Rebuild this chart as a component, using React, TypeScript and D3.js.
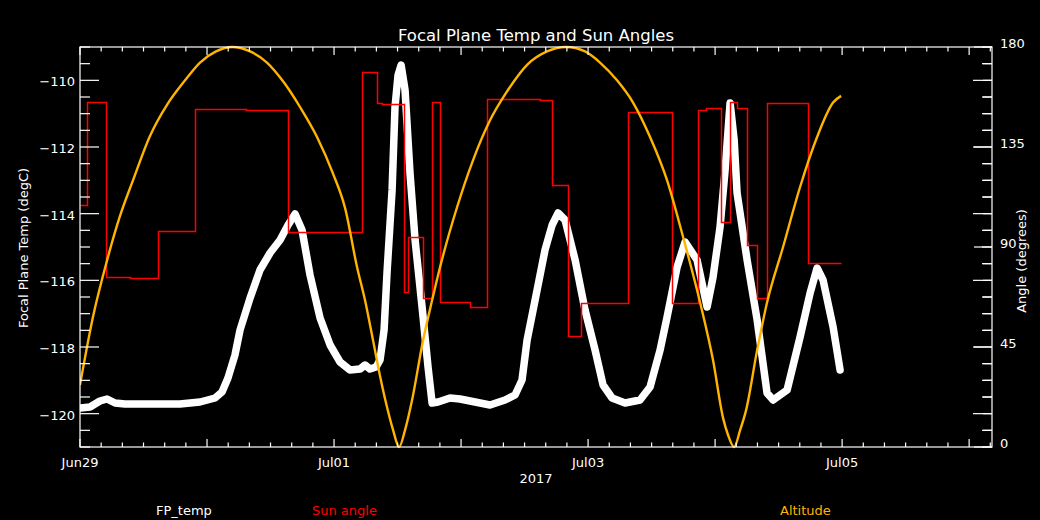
import { useEffect, useRef } from "react";
import * as d3 from "d3";

// time axis: days since 2017-06-29 00:00 UTC
const START = Date.UTC(2017, 5, 29);
const SPAN_DAYS = 7.18;

// FP_temp (degC)
const tempDays = [0, 0.079, 0.157, 0.213, 0.276, 0.354, 0.551, 0.787, 0.945, 1.063, 1.118, 1.165, 1.22, 1.26, 1.339, 1.417, 1.496, 1.575, 1.638, 1.693, 1.748, 1.811, 1.89, 1.969, 2.047, 2.126, 2.205, 2.244, 2.283, 2.331, 2.362, 2.394, 2.417, 2.457, 2.48, 2.504, 2.528, 2.559, 2.598, 2.638, 2.693, 2.74, 2.772, 2.819, 2.913, 2.992, 3.11, 3.228, 3.346, 3.425, 3.48, 3.52, 3.583, 3.661, 3.717, 3.764, 3.819, 3.898, 3.976, 4.055, 4.118, 4.189, 4.291, 4.409, 4.488, 4.567, 4.622, 4.701, 4.764, 4.858, 4.937, 4.984, 5.039, 5.079, 5.118, 5.15, 5.173, 5.252, 5.331, 5.409, 5.457, 5.567, 5.669, 5.748, 5.803, 5.85, 5.929, 5.984];
const tempValues = [-119.83, -119.8, -119.62, -119.56, -119.68, -119.71, -119.71, -119.71, -119.65, -119.53, -119.35, -118.93, -118.24, -117.49, -116.53, -115.69, -115.18, -114.79, -114.34, -114.01, -114.49, -115.84, -117.13, -117.94, -118.45, -118.69, -118.66, -118.54, -118.66, -118.6, -118.39, -117.49, -115.78, -113.29, -110.8, -109.84, -109.54, -110.29, -112.78, -114.79, -116.8, -118.6, -119.68, -119.65, -119.53, -119.56, -119.65, -119.74, -119.59, -119.44, -118.99, -117.79, -116.59, -115.09, -114.34, -113.98, -114.19, -115.39, -116.89, -118.09, -119.14, -119.53, -119.68, -119.59, -119.2, -118.09, -117.1, -115.6, -114.85, -115.39, -116.8, -115.9, -114.4, -112.69, -110.68, -111.79, -113.38, -115.39, -117.19, -119.38, -119.59, -119.29, -117.7, -116.38, -115.63, -115.99, -117.4, -118.69];

// Sun angle (degrees), value holds until next change
const sunDays = [0, 0.055, 0.205, 0.394, 0.614, 0.906, 1.307, 1.638, 2.22, 2.339, 2.378, 2.551, 2.583, 2.701, 2.772, 2.835, 3.071, 3.205, 3.622, 3.717, 3.843, 3.945, 4.315, 4.661, 4.866, 4.929, 5.047, 5.118, 5.173, 5.252, 5.331, 5.409, 5.732, 5.992];
const sunAngles = [108.9, 155.25, 76.5, 76.05, 97.2, 152.1, 151.65, 96.75, 168.75, 154.8, 154.35, 69.75, 94.5, 67.05, 155.25, 65.25, 63, 156.6, 156.15, 117.9, 49.95, 64.8, 150.75, 64.8, 151.65, 152.55, 101.25, 155.25, 152.55, 90.9, 67.05, 154.8, 82.8, 82.8];

// Altitude (scaled onto the angle axis)
const altDays = [0, 0.102, 0.213, 0.315, 0.417, 0.551, 0.685, 0.827, 0.945, 1.071, 1.197, 1.339, 1.472, 1.606, 1.732, 1.866, 1.992, 2.087, 2.181, 2.244, 2.307, 2.362, 2.417, 2.465, 2.512, 2.559, 2.614, 2.701, 2.772, 2.835, 2.969, 3.094, 3.228, 3.362, 3.52, 3.677, 3.827, 3.976, 4.094, 4.228, 4.354, 4.488, 4.622, 4.748, 4.882, 4.984, 5.063, 5.102, 5.15, 5.197, 5.244, 5.331, 5.409, 5.535, 5.669, 5.803, 5.929, 5.992];
const altValues = [27.9, 58.5, 84, 104, 120, 140, 154, 165, 173, 178, 180, 178, 173, 164, 153, 139.5, 123, 107.5, 81, 66, 48, 32, 18, 7.6, 0, 7.6, 21, 48, 66, 81, 108, 129, 147, 160, 172, 178, 180, 178, 173, 165, 155, 139.5, 120, 94.5, 65, 39, 13, 5.4, 0, 7.6, 16.6, 43.6, 65, 90, 117, 139.5, 155, 158];

const leftDomain = [-121, -109];
const leftMajor = [-120, -118, -116, -114, -112, -110];
const rightMajor = [0, 45, 90, 135, 180];

const legendLabels = ["FP_temp", "Sun angle", "Altitude"];
const legendColors = ["#ffffff", "#ff0000", "#ffb400"];
const legendX = [156, 312, 780];

const FONT = "'DejaVu Sans', sans-serif";

export default function App() {
  const svgRef = useRef<SVGSVGElement>(null);

  useEffect(() => {
    if (!svgRef.current) return;
    const svg = d3.select(svgRef.current);
    svg.selectAll("*").remove();

    const W = 1040, H = 520;
    const L = 80, R = 992, T = 47, B = 447;
    const day = (d: number) => new Date(START + d * 864e5);

    svg.append("rect").attr("width", W).attr("height", H).attr("fill", "#000");

    const x = d3.scaleUtc().domain([day(0), day(SPAN_DAYS)]).range([L, R]);
    const yL = d3.scaleLinear().domain(leftDomain).range([B, T]);
    const yR = d3.scaleLinear().domain([0, 180]).range([B, T]);

    svg.append("defs").append("clipPath").attr("id", "plot")
      .append("rect").attr("x", L).attr("y", T - 2).attr("width", R - L).attr("height", B - T + 4);

    const g = svg.append("g").attr("clip-path", "url(#plot)");

    // FP_temp
    const tempLine = d3.line<number>()
      .x((_, i) => x(day(tempDays[i])))
      .y(v => yL(v));
    g.append("path")
      .attr("d", tempLine(tempValues))
      .attr("fill", "none")
      .attr("stroke", "#fff")
      .attr("stroke-width", 7.5)
      .attr("stroke-linejoin", "round")
      .attr("stroke-linecap", "round");

    // Sun angle
    const sunLine = d3.line<number>()
      .x((_, i) => Math.round(x(day(sunDays[i]))) + 0.5)
      .y(v => Math.round(yR(v)) + 0.5)
      .curve(d3.curveStepAfter);
    g.append("path")
      .attr("d", sunLine(sunAngles))
      .attr("fill", "none")
      .attr("stroke", "#ff0000")
      .attr("stroke-width", 1.5);

    // Altitude
    const altLine = d3.line<number>()
      .x((_, i) => x(day(altDays[i])))
      .y(v => yR(v))
      .curve(d3.curveMonotoneX);
    g.append("path")
      .attr("d", altLine(altValues))
      .attr("fill", "none")
      .attr("stroke", "#ffb400")
      .attr("stroke-width", 2.4);

    // frame
    const ax = svg.append("g").attr("stroke", "#fff").attr("stroke-width", 1.2);
    ax.append("rect").attr("x", L).attr("y", T).attr("width", R - L).attr("height", B - T).attr("fill", "none");

    const tick = (x1: number, y1: number, x2: number, y2: number) =>
      ax.append("line").attr("x1", x1).attr("y1", y1).attr("x2", x2).attr("y2", y2);

    // time ticks, bottom and top
    x.ticks(d3.utcHour.every(4)!).forEach(t => {
      const px = x(t);
      const major = t.getUTCHours() === 0;
      const len = major ? 8 : 4.5;
      tick(px, B, px, B - len);
      tick(px, T, px, T + len);
    });

    // left axis ticks (mirrored on right)
    d3.range(leftDomain[0], leftDomain[1] + 0.01, 0.5).forEach(v => {
      const py = yL(v);
      const major = leftMajor.includes(v);
      const len = major ? 19 : 10;
      tick(L, py, L + len, py);
      tick(R, py, R - len, py);
    });

    // right axis ticks
    d3.range(0, 180.01, 7.5).forEach(v => {
      const py = yR(v);
      const len = rightMajor.includes(v) ? 18 : 9;
      tick(R, py, R - len, py);
    });

    const text = (s: string, tx: number, ty: number, anchor: string, color = "#fff", size = 13) =>
      svg.append("text")
        .attr("x", tx).attr("y", ty)
        .attr("text-anchor", anchor)
        .attr("fill", color)
        .style("font-family", FONT)
        .style("font-size", `${size}px`)
        .text(s);

    leftMajor.forEach(v => {
      text(String(v).replace("-", "\u2212"), L - 5, yL(v) + 6, "end");
    });
    rightMajor.forEach(v => {
      text(String(v), R + 8, yR(v) + 1, "start");
    });

    const fmt = d3.utcFormat("%b%d");
    x.ticks(d3.utcDay.every(2)!).forEach(t => {
      text(fmt(t), x(t), 467, "middle");
    });
    text("2017", (L + R) / 2, 483, "middle");

    text("Focal Plane Temp and Sun Angles", 536, 41, "middle", "#fff", 16.5);

    svg.append("text")
      .attr("transform", `translate(28,248) rotate(-90)`)
      .attr("text-anchor", "middle")
      .attr("fill", "#fff")
      .style("font-family", FONT)
      .style("font-size", "13px")
      .text("Focal Plane Temp (degC)");

    svg.append("text")
      .attr("transform", `translate(1026,261) rotate(-90)`)
      .attr("text-anchor", "middle")
      .attr("fill", "#fff")
      .style("font-family", FONT)
      .style("font-size", "13px")
      .text("Angle (degrees)");

    legendLabels.forEach((lab, i) => {
      text(lab, legendX[i], 515, "start", legendColors[i]);
    });
  }, []);

  return (
    <svg
      ref={svgRef}
      width={1040}
      height={520}
      style={{ position: "absolute", left: 0, top: 0, display: "block" }}
    />
  );
}
